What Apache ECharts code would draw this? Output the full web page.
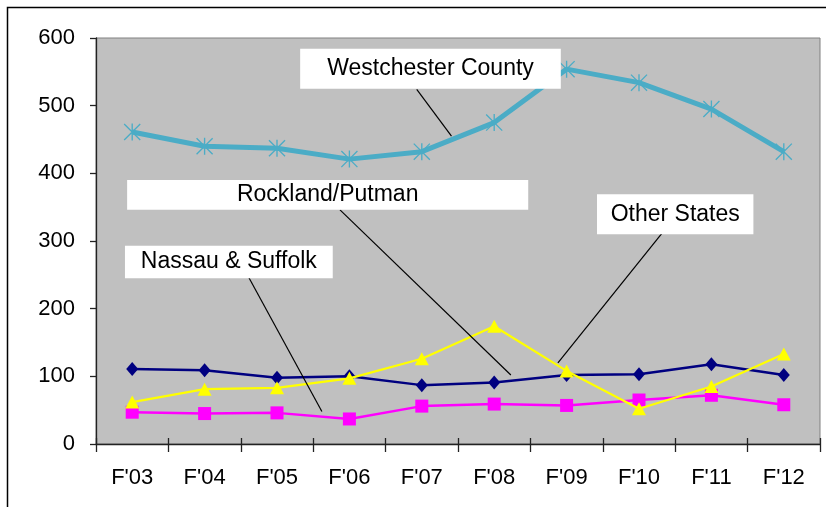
<!DOCTYPE html>
<html>
<head>
<meta charset="utf-8">
<script src="https://cdn.jsdelivr.net/npm/echarts@6/dist/echarts.min.js"></script>
<style>
html, body { margin: 0; padding: 0; background: #fff; }
#chart { width: 826px; height: 507px; }
</style>
</head>
<body>
<div id="chart"></div>
<script>
// categories (fiscal years)
var categories = ["F'03", "F'04", "F'05", "F'06", "F'07", "F'08", "F'09", "F'10", "F'11", "F'12"];
// series values
var westchester = [461, 440, 437, 421, 432, 475, 554, 534, 495, 432];
var rockland = [111, 109, 98, 100, 87, 91, 102, 103, 118, 102];
var otherStates = [62, 81, 83, 97, 126, 174, 108, 52, 85, 133];
var nassau = [47, 45, 46, 37, 56, 59, 57, 65, 72, 58];
// y axis
var yMin = 0, yMax = 600, yStep = 100;

// callouts, in data units (x = category index, y = value)
var calloutNames = ['Westchester County', 'Rockland/Putman', 'Other States', 'Nassau & Suffolk'];
// [xLeft, yTop, xRight, yBottom]
var calloutBoxes = [[2.32, 584, 5.92, 525], [-0.07, 390, 5.47, 346], [6.42, 369, 8.58, 310], [-0.10, 293, 2.77, 245]];
// leader lines [x1, y1, x2, y2]
var calloutLines = [[3.93, 524, 4.41, 455], [2.87, 346, 5.23, 102], [7.33, 313, 5.88, 120], [1.59, 250, 2.62, 48]];

var FONT = "'Liberation Sans', Arial, sans-serif";

// asterisk marker: X plus vertical bar
var starPath = 'path://M9.2 0L10.8 0L10.8 20L9.2 20Z M0 1.1L1.1 0L20 18.9L18.9 20Z M18.9 0L20 1.1L1.1 20L0 18.9Z';

var chart = echarts.init(document.getElementById('chart'));

var option = {
	backgroundColor: '#fff',
	animation: false,
	grid: {
		left: 96, top: 38, right: 6, bottom: 63,
		show: true,
		backgroundColor: '#c0c0c0',
		borderColor: '#808080',
		borderWidth: 1
	},
	xAxis: [{
		type: 'category',
		data: categories,
		boundaryGap: true,
		axisLine: { onZero: false, lineStyle: { color: '#222', width: 1.3 } },
		axisTick: { show: true, length: 8, interval: 0, lineStyle: { color: '#222', width: 1.3 } },
		axisLabel: { color: '#000', fontSize: 22, fontFamily: FONT, margin: 23, interval: 0 },
		splitLine: { show: false }
	}, {
		// inner half of the crossing ticks
		type: 'category',
		data: categories,
		position: 'bottom',
		boundaryGap: true,
		axisLine: { show: false, onZero: false },
		axisTick: { show: true, inside: true, length: 6, interval: 0, lineStyle: { color: '#222', width: 1.3 } },
		axisLabel: { show: false },
		splitLine: { show: false }
	}, {
		// helper axis for placing callouts
		type: 'value',
		min: -0.5, max: 9.5,
		show: false
	}],
	yAxis: {
		type: 'value',
		min: yMin, max: yMax, interval: yStep,
		axisLine: { show: true, onZero: false, lineStyle: { color: '#222', width: 1.3 } },
		axisTick: { show: true, length: 6, lineStyle: { color: '#222', width: 1.3 } },
		axisLabel: { color: '#000', fontSize: 22, fontFamily: FONT, margin: 21 },
		splitLine: { show: false }
	},
	series: [{
		name: 'Westchester County',
		type: 'line',
		data: westchester,
		symbol: starPath,
		symbolSize: 17,
		lineStyle: { color: '#4bacc6', width: 5 },
		itemStyle: { color: '#4bacc6' },
		z: 2
	}, {
		name: 'Rockland/Putman',
		type: 'line',
		data: rockland,
		symbol: 'diamond',
		symbolSize: [12, 14],
		lineStyle: { color: '#000080', width: 2.5 },
		itemStyle: { color: '#000080' },
		z: 3
	}, {
		name: 'Other States',
		type: 'line',
		data: otherStates,
		symbol: 'triangle',
		symbolSize: [14, 13],
		lineStyle: { color: '#ffff00', width: 2.2 },
		itemStyle: { color: '#ffff00' },
		z: 4
	}, {
		name: 'Nassau & Suffolk',
		type: 'line',
		data: nassau,
		symbol: 'rect',
		symbolSize: 13,
		lineStyle: { color: '#ff00ff', width: 2.5 },
		itemStyle: { color: '#ff00ff' },
		z: 3
	}]
};

chart.setOption(option);

function px(x) { return chart.convertToPixel({ xAxisIndex: 2 }, x); }
function py(y) { return chart.convertToPixel({ yAxisIndex: 0 }, y); }

var graphics = [{
	// outer frame
	type: 'rect',
	shape: { x: 7.5, y: 7.5, width: 840, height: 520 },
	style: { fill: null, stroke: '#000', lineWidth: 1.5 },
	silent: true
}];

for (var i = 0; i < calloutNames.length; i++) {
	var b = calloutBoxes[i], l = calloutLines[i];
	var x0 = px(b[0]), y0 = py(b[1]), x1 = px(b[2]), y1 = py(b[3]);
	graphics.push({
		type: 'line',
		z: 50,
		shape: { x1: px(l[0]), y1: py(l[1]), x2: px(l[2]), y2: py(l[3]) },
		style: { stroke: '#000', lineWidth: 1.2 },
		silent: true
	});
	graphics.push({
		type: 'rect',
		z: 51,
		shape: { x: x0, y: y0, width: x1 - x0, height: y1 - y0 },
		style: { fill: '#fff' },
		silent: true
	});
	graphics.push({
		type: 'text',
		z: 52,
		x: (x0 + x1) / 2,
		y: (y0 + y1) / 2,
		style: {
			text: calloutNames[i],
			textAlign: 'center',
			textVerticalAlign: 'middle',
			font: '23px ' + FONT,
			fill: '#000'
		},
		silent: true
	});
}

chart.setOption({ graphic: graphics });
</script>
</body>
</html>
